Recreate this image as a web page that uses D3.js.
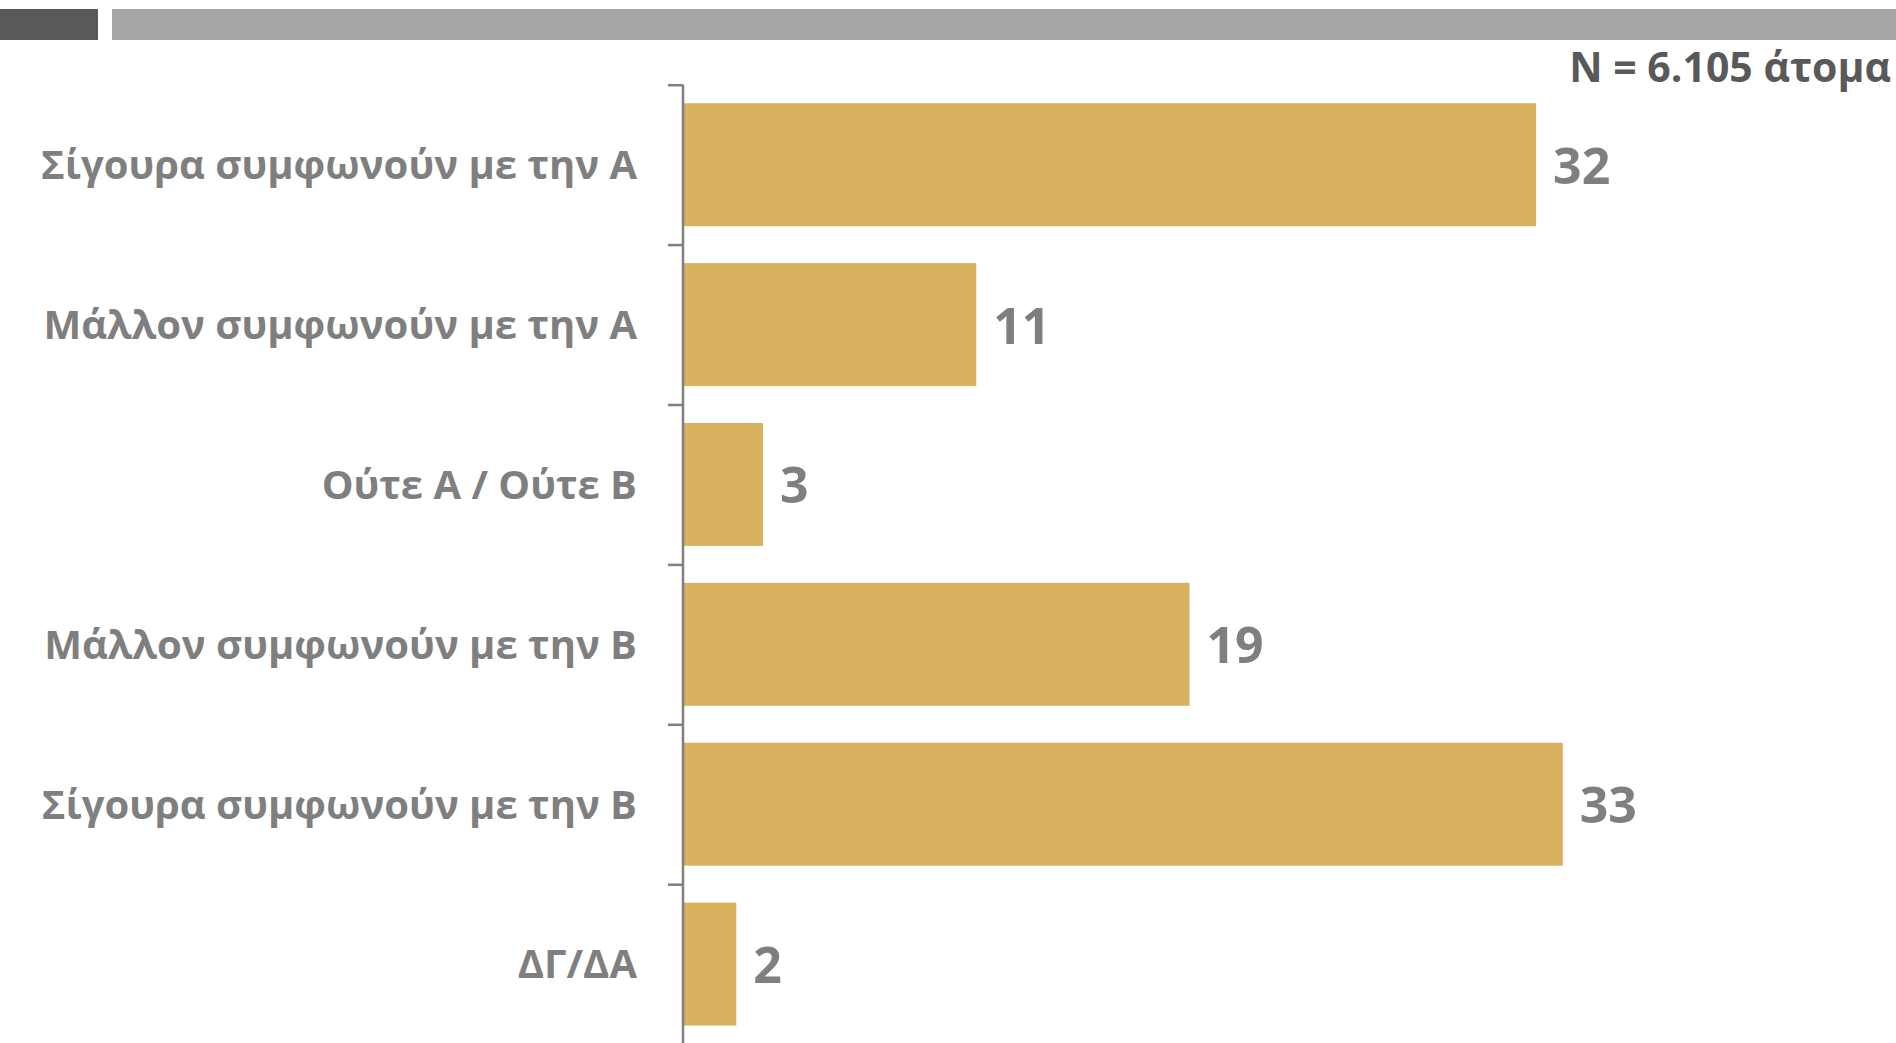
<!DOCTYPE html>
<html>
<head>
<meta charset="utf-8">
<script src="https://cdn.jsdelivr.net/npm/d3@7"></script>
<style>
  html, body { margin: 0; padding: 0; background: #ffffff; overflow: hidden; }
  svg { display: block; }
  text { font-family: "Open Sans", "Noto Sans", sans-serif; }
</style>
</head>
<body>
<svg id="chart" width="1896" height="1043"></svg>
<script>
const categories = [
  "Σίγουρα συμφωνούν με την Α",
  "Μάλλον συμφωνούν με την Α",
  "Ούτε Α / Ούτε Β",
  "Μάλλον συμφωνούν με την Β",
  "Σίγουρα συμφωνούν με την Β",
  "ΔΓ/ΔΑ"
];
const values = [32, 11, 3, 19, 33, 2];
const sampleNote = "N = 6.105 άτομα";

(function () {
const svg = d3.select("#chart");
const W = 1896, H = 1043;

// header bars
svg.append("rect").attr("x", 0).attr("y", 9).attr("width", 98).attr("height", 31).attr("fill", "#595959");
svg.append("rect").attr("x", 112).attr("y", 9).attr("width", W - 112).attr("height", 31).attr("fill", "#a6a6a6");

// sample note
svg.append("text")
  .attr("x", 1891).attr("y", 82)
  .attr("text-anchor", "end")
  .attr("font-size", 41).attr("font-weight", 700)
  .attr("fill", "#595959")
  .text(sampleNote);

const axisX = 683;
const y0 = 84.7, y1 = 84.7 + 6 * 159.9;

const x = d3.scaleLinear().domain([0, 35]).range([axisX, axisX + 35 * 26.66]);
const y = d3.scaleBand().domain(categories).range([y0, y1]).paddingInner(0.231).paddingOuter(0.116);

// bars
svg.append("g").selectAll("rect")
  .data(values)
  .join("rect")
  .attr("x", x(0))
  .attr("y", (d, i) => y(categories[i]))
  .attr("width", d => x(d) - x(0))
  .attr("height", y.bandwidth())
  .attr("fill", "#d8b25e");

// axis with boundary ticks
const idx = d3.scaleLinear().domain([0, categories.length]).range([y0, y1]);
const axisG = svg.append("g")
  .attr("transform", `translate(${axisX},0)`)
  .call(d3.axisLeft(idx).tickValues(d3.range(categories.length + 1)).tickFormat("").tickSize(15).tickSizeOuter(0));
axisG.select(".domain").attr("stroke", "#808080").attr("stroke-width", 2.5).attr("d", `M0,${y0}V${H}`);
axisG.selectAll(".tick line").attr("stroke", "#808080").attr("stroke-width", 2.5);

// category labels
svg.append("g").selectAll("text")
  .data(categories)
  .join("text")
  .attr("x", 637)
  .attr("y", d => y(d) + y.bandwidth() / 2)
  .attr("dy", "0.36em")
  .attr("text-anchor", "end")
  .attr("font-size", 40).attr("font-weight", 700)
  .attr("fill", "#7f7f7f")
  .text(d => d);

// value labels
svg.append("g").selectAll("text")
  .data(values)
  .join("text")
  .attr("x", d => x(d) + 17)
  .attr("y", (d, i) => y(categories[i]) + y.bandwidth() / 2)
  .attr("dy", "0.38em")
  .attr("font-size", 50).attr("font-weight", 700)
  .attr("fill", "#7f7f7f")
  .text(d => d);
})();
</script>
</body>
</html>
